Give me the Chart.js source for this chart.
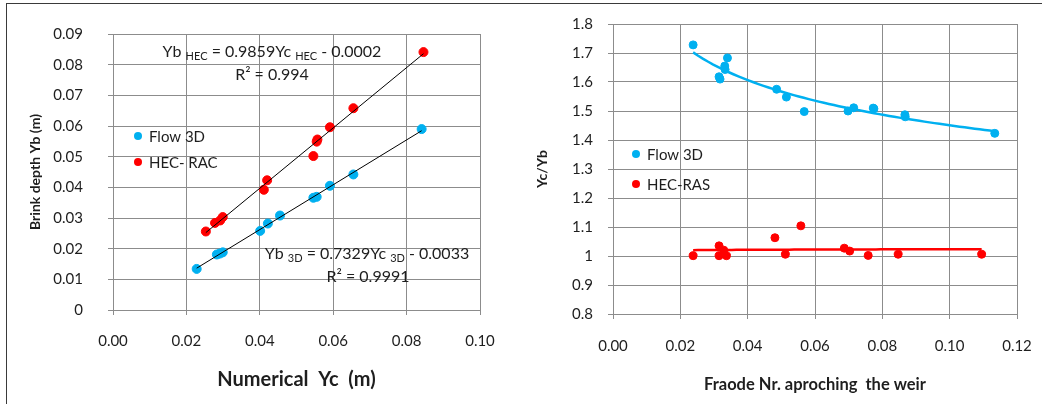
<!DOCTYPE html>
<html>
<head>
<meta charset="utf-8">
<script src="https://cdn.jsdelivr.net/npm/chart.js@4.4.1/dist/chart.umd.min.js"></script>
<style>
  html, body { margin: 0; padding: 0; background: #fff; }
  #wrap { position: relative; width: 1042px; height: 404px; overflow: hidden; }
  #frame { position: absolute; left: 6px; top: 3px; width: 1100px; height: 500px;
           border-left: 1px solid #3a3a3a; border-top: 1px solid #3a3a3a; }
  #leftBox { position: absolute; left: 0; top: 0; width: 520px; height: 404px; }
  #rightBox { position: absolute; left: 520px; top: 0; width: 522px; height: 404px; }
</style>
</head>
<body>
<div id="wrap">
  <div id="frame"></div>
  <div id="leftBox"><canvas id="leftChart" width="520" height="404"></canvas></div>
  <div id="rightBox"><canvas id="rightChart" width="522" height="404"></canvas></div>
</div>
<script>
// Left chart: numerical Yc vs brink depth Yb
const flowYc = [0.0228, 0.0283, 0.0291, 0.0299, 0.0401, 0.0422, 0.0455, 0.0546, 0.0555, 0.0591, 0.0655, 0.0841];
const flowYb = [0.0134, 0.0181, 0.0184, 0.0188, 0.0258, 0.0282, 0.0308, 0.0366, 0.0369, 0.0405, 0.0442, 0.0590];
const hecYc = [0.0253, 0.0278, 0.0292, 0.0299, 0.0411, 0.0420, 0.0546, 0.0555, 0.0557, 0.0591, 0.0655, 0.0846];
const hecYb = [0.0256, 0.0284, 0.0292, 0.0303, 0.0392, 0.0423, 0.0502, 0.0549, 0.0556, 0.0596, 0.0658, 0.0841];

// Right chart: Froude number vs Yc/Yb
const froude3D = [0.0238, 0.0315, 0.0318, 0.0332, 0.0333, 0.0340, 0.0486, 0.0515, 0.0568, 0.0698, 0.0715, 0.0773, 0.0775, 0.0867, 0.0868, 0.1134];
const ratio3D = [1.728, 1.618, 1.610, 1.655, 1.643, 1.683, 1.575, 1.548, 1.498, 1.500, 1.511, 1.510, 1.508, 1.487, 1.480, 1.423];
const froudeHEC = [0.0238, 0.0315, 0.0315, 0.0329, 0.0337, 0.0481, 0.0512, 0.0558, 0.0687, 0.0703, 0.0758, 0.0847, 0.1095];
const ratioHEC = [1.001, 1.035, 1.001, 1.020, 1.001, 1.063, 1.006, 1.104, 1.027, 1.017, 1.002, 1.006, 1.006];

const leftLabels = ['Flow 3D', 'HEC- RAC'];
const rightLabels = ['Flow 3D', 'HEC-RAS'];

const BLUE = '#00b0f0';
const RED = '#ff0000';
const GRID = '#8c8c8c';
const TEXT = '#1e1e1e';
const FONT = 'Lato, "Noto Sans", sans-serif';

function toPoints(xs, ys) {
    return xs.map((x, i) => ({ x: x, y: ys[i] }));
}

// least squares straight line, as the spreadsheet trendline
function linearTrend(xs, ys) {
    const n = xs.length;
    let sx = 0, sy = 0, sxx = 0, sxy = 0;
    for (let i = 0; i < n; i++) {
        sx += xs[i]; sy += ys[i]; sxx += xs[i] * xs[i]; sxy += xs[i] * ys[i];
    }
    const b = (n * sxy - sx * sy) / (n * sxx - sx * sx);
    const a = (sy - b * sx) / n;
    const x0 = Math.min(...xs), x1 = Math.max(...xs);
    return [{ x: x0, y: a + b * x0 }, { x: x1, y: a + b * x1 }];
}

// power trendline y = a * x^b fitted on logs
function powerTrend(xs, ys, steps) {
    const lx = xs.map(Math.log), ly = ys.map(Math.log);
    const n = xs.length;
    let sx = 0, sy = 0, sxx = 0, sxy = 0;
    for (let i = 0; i < n; i++) {
        sx += lx[i]; sy += ly[i]; sxx += lx[i] * lx[i]; sxy += lx[i] * ly[i];
    }
    const b = (n * sxy - sx * sy) / (n * sxx - sx * sx);
    const a = Math.exp((sy - b * sx) / n);
    const x0 = Math.min(...xs), x1 = Math.max(...xs);
    const pts = [];
    for (let k = 0; k <= steps; k++) {
        const x = x0 + (x1 - x0) * k / steps;
        pts.push({ x: x, y: a * Math.pow(x, b) });
    }
    return pts;
}

// text with subscripts, centred on cx
function drawRich(ctx, parts, cx, baseline, size) {
    const main = size + 'px ' + FONT;
    const sub = Math.round(size * 0.7) + 'px ' + FONT;
    let w = 0;
    parts.forEach(p => { ctx.font = p[1] ? sub : main; w += ctx.measureText(p[0]).width; });
    let x = cx - w / 2;
    ctx.textAlign = 'left';
    ctx.textBaseline = 'alphabetic';
    parts.forEach(p => {
        ctx.font = p[1] ? sub : main;
        ctx.fillText(p[0], x, baseline + (p[1] ? 3 : 0));
        x += ctx.measureText(p[0]).width;
    });
}

function legendPlugin(items) {
    return {
        id: 'insideLegend',
        afterDraw(chart) {
            const ctx = chart.ctx;
            ctx.save();
            items.forEach(it => {
                ctx.fillStyle = it.color;
                ctx.beginPath();
                ctx.arc(it.x, it.y, 4, 0, Math.PI * 2);
                ctx.fill();
                ctx.fillStyle = TEXT;
                ctx.font = '15px ' + FONT;
                ctx.textAlign = 'left';
                ctx.textBaseline = 'middle';
                ctx.fillText(it.text, it.x + 11, it.y + 1);
            });
            ctx.restore();
        }
    };
}

const equationPlugin = {
    id: 'equations',
    afterDraw(chart) {
        const ctx = chart.ctx;
        ctx.save();
        ctx.fillStyle = TEXT;
        drawRich(ctx, [['Yb ', false], ['HEC', true], [' = 0.9859Yc ', false], ['HEC', true], [' - 0.0002', false]], 272, 57, 16);
        drawRich(ctx, [['R\u00b2 = 0.994', false]], 272, 80, 16);
        drawRich(ctx, [['Yb ', false], ['3D', true], [' = 0.7329Yc ', false], ['3D', true], [' - 0.0033', false]], 367, 259, 16);
        drawRich(ctx, [['R\u00b2 = 0.9991', false]], 368, 282, 16);
        ctx.restore();
    }
};

function axisX(min, max, titleText, titleSize, titlePad, labelPad, height) {
    return {
        type: 'linear', min: min, max: max,
        afterFit(scale) {
            scale.height = height;
            scale.paddingLeft = 0;
            scale.paddingRight = 0;
        },
        ticks: {
            stepSize: 0.02, padding: labelPad, color: TEXT,
            font: { family: FONT, size: 15 },
            callback: v => v.toFixed(2)
        },
        grid: { color: GRID, tickLength: 5, drawTicks: true },
        border: { color: GRID },
        title: {
            display: true, text: titleText, color: TEXT,
            font: { family: FONT, size: titleSize, weight: 'bold' },
            padding: { top: 0, bottom: titlePad }
        }
    };
}

function axisY(min, max, step, fmt, titleText, titleSize, titlePad, labelPad, width) {
    return {
        type: 'linear', min: min, max: max,
        afterFit(scale) { scale.width = width; },
        ticks: {
            stepSize: step, padding: labelPad, color: TEXT,
            font: { family: FONT, size: 15 },
            callback: fmt
        },
        grid: { color: GRID, tickLength: 5, drawTicks: true },
        border: { color: GRID },
        title: {
            display: true, text: titleText, color: TEXT,
            font: { family: FONT, size: titleSize, weight: 'bold' },
            padding: { top: titlePad, bottom: 0 }
        }
    };
}

document.addEventListener('DOMContentLoaded', function() {
    new Chart(document.getElementById('leftChart'), {
        type: 'scatter',
        data: {
            datasets: [
                { label: 'Flow 3D trend', data: linearTrend(flowYc, flowYb), showLine: true, borderColor: '#000', borderWidth: 1, pointRadius: 0, order: 0 },
                { label: 'HEC trend', data: linearTrend(hecYc, hecYb), showLine: true, borderColor: '#000', borderWidth: 1, pointRadius: 0, order: 0 },
                { label: leftLabels[0], data: toPoints(flowYc, flowYb), backgroundColor: BLUE, borderColor: BLUE, pointRadius: 4.5, order: 1 },
                { label: leftLabels[1], data: toPoints(hecYc, hecYb), backgroundColor: RED, borderColor: RED, pointRadius: 4.5, order: 1 }
            ]
        },
        options: {
            responsive: false, animation: false,
            layout: { padding: { left: 0, top: 23, right: 40, bottom: 0 } },
            plugins: { legend: { display: false }, tooltip: { enabled: false } },
            scales: {
                x: axisX(0, 0.1, 'Numerical  Yc  (m)', 20, 12, 17, 94),
                y: axisY(0, 0.09, 0.01, v => v === 0 ? '0' : v.toFixed(2), 'Brink depth Yb (m)', 14, 27, 25, 113)
            }
        },
        plugins: [legendPlugin([
            { x: 138, y: 136, color: BLUE, text: leftLabels[0] },
            { x: 138, y: 162, color: RED, text: leftLabels[1] }
        ]), equationPlugin]
    });

    new Chart(document.getElementById('rightChart'), {
        type: 'scatter',
        data: {
            datasets: [
                { label: 'Flow 3D trend', data: powerTrend(froude3D, ratio3D, 60), showLine: true, borderColor: BLUE, borderWidth: 2.5, pointRadius: 0, order: 0 },
                { label: 'HEC trend', data: powerTrend(froudeHEC, ratioHEC, 60), showLine: true, borderColor: RED, borderWidth: 2.5, pointRadius: 0, order: 0 },
                { label: rightLabels[0], data: toPoints(froude3D, ratio3D), backgroundColor: BLUE, borderColor: BLUE, pointRadius: 4, order: 1 },
                { label: rightLabels[1], data: toPoints(froudeHEC, ratioHEC), backgroundColor: RED, borderColor: RED, pointRadius: 4, order: 1 }
            ]
        },
        options: {
            responsive: false, animation: false,
            layout: { padding: { left: 0, top: 24, right: 25, bottom: 0 } },
            plugins: { legend: { display: false }, tooltip: { enabled: false } },
            scales: {
                x: axisX(0, 0.12, 'Fraode Nr. aproching  the weir', 16.5, 9, 18, 90),
                y: axisY(0.8, 1.8, 0.1, v => String(parseFloat(v.toFixed(1))), 'Yc/Yb', 14, 14, 15, 93)
            }
        },
        plugins: [legendPlugin([
            { x: 116, y: 154, color: BLUE, text: rightLabels[0] },
            { x: 116, y: 184, color: RED, text: rightLabels[1] }
        ])]
    });
});
</script>
</body>
</html>
